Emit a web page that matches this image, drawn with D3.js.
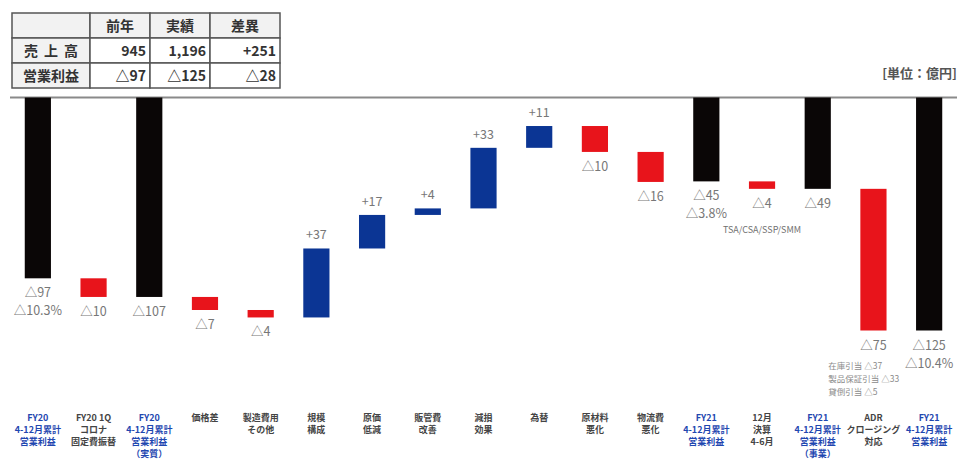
<!DOCTYPE html>
<html>
<head>
<meta charset="utf-8">
<script src="https://cdn.jsdelivr.net/npm/d3@7"></script>
<style>
  body { margin: 0; background: #fff; }
  svg { font-family: "Noto Sans CJK JP", "Noto Sans", sans-serif; }
</style>
</head>
<body>
<svg id="chart" width="969" height="459"></svg>
<script>
// categories (bottom labels, one entry per line)
const categories = [
  ['FY20', '4-12月累計', '営業利益'],
  ['FY20 1Q', 'コロナ', '固定費振替'],
  ['FY20', '4-12月累計', '営業利益', '（実質）'],
  ['価格差'],
  ['製造費用', 'その他'],
  ['規模', '構成'],
  ['原価', '低減'],
  ['販管費', '改善'],
  ['減損', '効果'],
  ['為替'],
  ['原材料', '悪化'],
  ['物流費', '悪化'],
  ['FY21', '4-12月累計', '営業利益'],
  ['12月', '決算', '4-6月'],
  ['FY21', '4-12月累計', '営業利益', '（事業）'],
  ['ADR', 'クロージング', '対応'],
  ['FY21', '4-12月累計', '営業利益']
];
const isTotal = [1,0,1,0,0,0,0,0,0,0,0,0,1,0,1,0,1];

// bar start / end values (億円)
const barFrom = [0, -97, 0, -107, -114, -118, -81, -63, -59.5, -27, -15.3, -29.2, 0, -45, 0, -49, 0];
const barTo   = [-97, -107, -107, -114, -118, -81, -63, -59.5, -27, -15.3, -29.2, -45.3, -45, -49, -49, -125, -125];

// value labels
const valueLabels = ['△97', '△10', '△107', '△7', '△4', '+37', '+17', '+4', '+33', '+11', '△10', '△16', '△45', '△4', '△49', '△75', '△125'];
const pctLabels = ['△10.3%', '', '', '', '', '', '', '', '', '', '', '', '△3.8%', '', '', '', '△10.4%'];
const noteTSA = 'TSA/CSA/SSP/SMM';
const adrNotes = ['在庫引当 △37', '製品保証引当 △33', '貸倒引当 △5'];

// summary table
const tableHead = ['', '前年', '実績', '差異'];
const tableRows = [
  ['売上高', '945', '1,196', '+251'],
  ['営業利益', '△97', '△125', '△28']
];

const svg = d3.select('#chart');

const x = d3.scaleBand()
  .domain(d3.range(categories.length))
  .range([10, 957])
  .paddingInner(0.53)
  .paddingOuter(0.265);

const y = d3.scaleLinear()
  .domain([0, -125])
  .range([97.5, 330.5]);

const colorOf = (i) => isTotal[i] ? '#0a0606' : (barTo[i] > barFrom[i] ? '#0b3594' : '#e8141b');

// baseline
svg.append('line')
  .attr('x1', 10).attr('x2', 957)
  .attr('y1', y(0)).attr('y2', y(0))
  .attr('stroke', '#8a8a8a')
  .attr('stroke-width', 2);

// bars
svg.append('g').selectAll('rect')
  .data(categories)
  .join('rect')
  .attr('x', (d, i) => x(i))
  .attr('width', x.bandwidth())
  .attr('y', (d, i) => y(Math.max(barFrom[i], barTo[i])))
  .attr('height', (d, i) => Math.abs(y(barFrom[i]) - y(barTo[i])))
  .attr('fill', (d, i) => colorOf(i));

// value labels
const lbl = svg.append('g')
  .attr('font-size', 12.5)
  .attr('fill', '#777')
  .attr('text-anchor', 'middle');

categories.forEach((d, i) => {
  const cx = x(i) + x.bandwidth() / 2;
  const up = barTo[i] > barFrom[i];
  if (up) {
    lbl.append('text')
      .attr('x', cx)
      .attr('y', y(Math.max(barFrom[i], barTo[i])) - 9)
      .text(valueLabels[i]);
  } else {
    const bottom = y(Math.min(barFrom[i], barTo[i]));
    lbl.append('text')
      .attr('x', cx)
      .attr('y', bottom + 19)
      .text(valueLabels[i]);
    if (pctLabels[i]) {
      lbl.append('text')
        .attr('x', cx)
        .attr('y', bottom + 37)
        .text(pctLabels[i]);
    }
  }
});

// small notes
const c13 = x(13) + x.bandwidth() / 2;
svg.append('text')
  .attr('x', c13)
  .attr('y', y(-49) + 44)
  .attr('text-anchor', 'middle')
  .attr('font-size', 9)
  .attr('fill', '#707070')
  .text(noteTSA);

svg.append('g').selectAll('text')
  .data(adrNotes)
  .join('text')
  .attr('x', x(15) - 32)
  .attr('y', (d, i) => y(-125) + 38 + i * 13)
  .attr('font-size', 8.5)
  .attr('fill', '#8a8a8a')
  .text(d => d);

// category labels
const cat = svg.append('g')
  .attr('font-size', 9)
  .attr('font-weight', 'bold')
  .attr('text-anchor', 'middle');

categories.forEach((lines, i) => {
  const cx = x(i) + x.bandwidth() / 2;
  lines.forEach((t, j) => {
    cat.append('text')
      .attr('x', cx)
      .attr('y', 421 + j * 12)
      .attr('fill', isTotal[i] ? '#1f47b0' : '#444')
      .text(t);
  });
});

// unit label
svg.append('text')
  .attr('x', 957)
  .attr('y', 78)
  .attr('text-anchor', 'end')
  .attr('font-size', 13)
  .attr('font-weight', 'bold')
  .attr('fill', '#555')
  .text('[単位：億円]');

// summary table
const colX = [12, 90, 150, 210, 280];
const rowY = [13, 38, 63, 88];
const tbl = svg.append('g');
const allRows = [tableHead].concat(tableRows);

allRows.forEach((row, r) => {
  row.forEach((t, c) => {
    tbl.append('rect')
      .attr('x', colX[c])
      .attr('y', rowY[r])
      .attr('width', colX[c + 1] - colX[c])
      .attr('height', rowY[r + 1] - rowY[r])
      .attr('fill', (r === 0 || c === 0) ? '#f2f2f2' : '#fff')
      .attr('stroke', '#555')
      .attr('stroke-width', 1.5);
    const right = r > 0 && c > 0;
    tbl.append('text')
      .attr('x', right ? colX[c + 1] - 4 : (colX[c] + colX[c + 1]) / 2)
      .attr('y', (rowY[r] + rowY[r + 1]) / 2 + 5)
      .attr('text-anchor', right ? 'end' : 'middle')
      .attr('font-size', 14)
      .attr('font-weight', 'bold')
      .attr('letter-spacing', (c === 0 && t.length === 3) ? 6 : 0)
      .attr('dx', (c === 0 && t.length === 3) ? 3 : 0)
      .attr('fill', '#333')
      .text(t);
  });
});
</script>
</body>
</html>
